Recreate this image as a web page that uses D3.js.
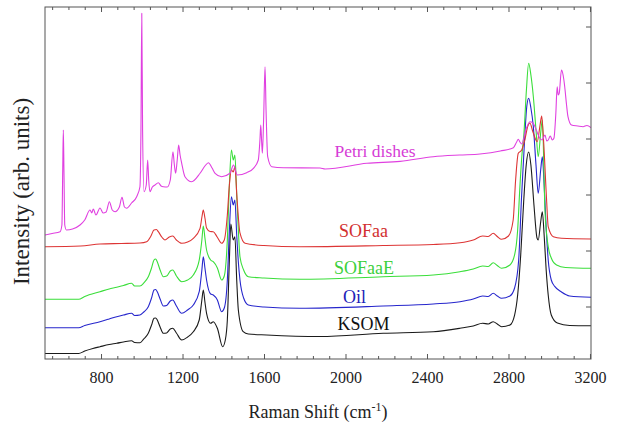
<!DOCTYPE html>
<html>
<head>
<meta charset="utf-8">
<script src="https://cdn.jsdelivr.net/npm/d3@7"></script>
<style>
  html, body { margin: 0; padding: 0; background: #fff; }
  svg { display: block; }
</style>
</head>
<body>
<svg id="chart" width="618" height="435"></svg>
<script>
// ---------------- data (Raman shift in cm-1, intensity in arb. units) ----------------
const xTicksMajor = [800, 1200, 1600, 2000, 2400, 2800, 3200];
const yTicks = [1, 2, 3, 4, 5, 6];

const ksomShift = [525,600,690,720,760,795,840,877,910,950,965,991,1010,1032,1048,1060,1068,1076,1090,1106,1122,1140,1152,1170,1196,1225,1253,1282,1295,1302,1310,1318,1338,1351,1371,1397,1410,1420,1430,1437,1449,1457,1466,1474,1498,1523,1613,1875,2185,2431,2562,2627,2673,2701,2725,2745,2766,2807,2830,2845,2860,2875,2887,2899,2910,2925,2940,2946,2958,2966,2975,2985,2995,3010,3040,3100,3205];
const ksomInt   = [0.16,0.16,0.16,0.205,0.25,0.282,0.321,0.343,0.366,0.389,0.357,0.354,0.42,0.521,0.67,0.789,0.795,0.759,0.634,0.521,0.527,0.598,0.611,0.527,0.402,0.455,0.55,0.759,1.116,1.295,1.08,0.879,0.7,0.729,0.611,0.282,0.402,0.759,1.83,2.473,2.188,2.246,1.473,0.938,0.55,0.509,0.491,0.464,0.521,0.55,0.611,0.652,0.7,0.688,0.729,0.688,0.639,0.67,0.848,1.205,1.92,2.902,3.527,3.759,3.527,2.813,2.223,2.188,2.509,2.693,2.277,1.652,1.205,0.848,0.705,0.661,0.657];

const oilShift = [525,690,720,795,840,877,910,950,965,991,1010,1032,1048,1060,1068,1076,1090,1106,1122,1140,1152,1170,1196,1225,1253,1282,1295,1302,1310,1318,1338,1351,1371,1392,1405,1420,1430,1440,1449,1457,1466,1474,1482,1500,1523,1600,1776,2185,2431,2562,2627,2673,2701,2725,2745,2766,2807,2830,2850,2864,2880,2890,2899,2910,2922,2935,2946,2958,2966,2975,2985,2995,3010,3028,3060,3100,3205];
const oilInt   = [0.621,0.621,0.661,0.729,0.777,0.818,0.848,0.879,0.839,0.848,0.902,0.996,1.152,1.295,1.304,1.264,1.134,1.009,1.018,1.098,1.116,1.009,0.879,0.938,1.027,1.264,1.652,1.889,1.688,1.473,1.223,1.205,1.116,0.907,0.973,1.473,2.366,2.961,2.813,2.902,2.277,1.795,1.473,1.152,1.027,0.991,0.968,1.009,1.045,1.086,1.134,1.188,1.179,1.236,1.188,1.146,1.188,1.33,1.83,2.946,4.045,4.58,4.718,4.545,4.211,3.527,3.021,3.438,3.675,3.17,2.402,1.83,1.473,1.354,1.259,1.188,1.164];

const sofaaeShift = [525,690,720,795,840,877,910,950,965,991,1010,1032,1048,1060,1068,1076,1090,1106,1122,1140,1152,1170,1196,1225,1253,1282,1295,1302,1310,1318,1338,1351,1371,1392,1405,1420,1430,1440,1449,1457,1466,1474,1482,1500,1523,1600,1776,2185,2431,2562,2627,2673,2701,2725,2745,2766,2807,2830,2845,2856,2866,2876,2888,2899,2910,2922,2935,2946,2958,2966,2979,2995,3010,3036,3080,3205];
const sofaaeInt   = [1.129,1.129,1.179,1.264,1.313,1.343,1.375,1.414,1.366,1.366,1.42,1.532,1.688,1.83,1.848,1.8,1.652,1.532,1.545,1.634,1.652,1.545,1.443,1.473,1.563,1.83,2.188,2.438,2.223,2.009,1.83,1.8,1.688,1.473,1.545,2.188,3.17,3.795,3.616,3.705,2.991,2.366,1.889,1.652,1.532,1.509,1.486,1.532,1.563,1.621,1.67,1.723,1.714,1.782,1.732,1.682,1.741,1.92,2.366,3.139,3.705,4.098,4.866,5.343,5.134,4.746,4.152,3.675,4.098,4.33,2.723,2.068,1.866,1.741,1.696,1.682];

const sofaaShift = [525,700,795,900,991,1024,1045,1060,1072,1081,1100,1114,1135,1152,1170,1196,1225,1253,1286,1296,1302,1310,1318,1335,1351,1370,1392,1405,1420,1430,1440,1449,1457,1468,1482,1507,1600,1776,2185,2431,2562,2627,2673,2701,2725,2745,2766,2800,2823,2835,2848,2865,2880,2895,2905,2920,2941,2955,2963,2972,2987,2995,3020,3060,3205];
const sofaaInt   = [2.068,2.08,2.116,2.125,2.134,2.157,2.259,2.366,2.375,2.336,2.232,2.188,2.241,2.259,2.188,2.129,2.152,2.218,2.396,2.616,2.723,2.58,2.402,2.339,2.336,2.241,2.129,2.188,2.634,3.17,3.438,3.402,3.496,2.902,2.313,2.129,2.089,2.068,2.089,2.107,2.139,2.188,2.259,2.25,2.307,2.25,2.2,2.259,2.545,3.259,3.736,3.795,3.973,4.223,4.277,4.116,3.943,4.241,4.402,3.973,2.902,2.425,2.246,2.218,2.205];

const petriShift = [525,560,599,608,612,615,618,622,630,660,697,720,746,755,762,775,795,810,825,841,855,869,890,903,915,926,950,975,991,996,1000,1004,1011,1022,1029,1034,1040,1052,1065,1081,1095,1106,1125,1140,1153,1160,1166,1174,1181,1188,1196,1212,1245,1286,1310,1327,1345,1360,1392,1433,1450,1469,1515,1548,1572,1580,1584,1588,1592,1598,1605,1610,1618,1638,1695,1875,1900,2105,2268,2431,2560,2660,2760,2824,2840,2848,2856,2865,2885,2905,2920,2930,2954,2965,2979,2988,2995,3005,3015,3023,3032,3039,3044,3049,3060,3068,3076,3085,3092,3109,3140,3166,3185,3205];
const petriInt   = [2.277,2.304,2.336,2.455,3.438,4.152,3.438,2.455,2.366,2.384,2.455,2.545,2.723,2.67,2.741,2.634,2.759,2.67,2.688,2.871,2.723,2.693,2.777,2.95,2.777,2.754,2.848,2.961,3.139,4.152,6.236,4.152,3.05,3.17,3.616,3.259,3.05,3.134,3.17,3.211,3.152,3.139,3.134,3.259,3.764,3.527,3.379,3.616,3.884,3.705,3.557,3.318,3.229,3.379,3.509,3.568,3.473,3.379,3.318,3.379,3.527,3.348,3.389,3.468,3.616,3.973,4.241,3.973,3.736,4.33,5.282,4.509,3.675,3.496,3.479,3.473,3.455,3.557,3.591,3.674,3.705,3.723,3.777,3.836,3.938,3.986,3.938,3.902,4.152,4.3,4.277,4.211,4.004,3.973,4.063,3.955,3.973,4.045,3.973,4.004,4.42,4.925,4.777,4.807,5.223,5.134,4.925,4.598,4.389,4.241,4.223,4.211,4.232,4.193];

const seriesNames = ["KSOM", "Oil", "SOFaaE", "SOFaa", "Petri dishes"];

// ---------------- styling / layout ----------------
const FONT = "'Liberation Serif', 'DejaVu Serif', serif";
const colors = {
  "KSOM": "#1a1a1a",
  "Oil": "#2626cc",
  "SOFaaE": "#3ade3a",
  "SOFaa": "#dd3535",
  "Petri dishes": "#e040e0"
};
const textColors = {
  "KSOM": "#111111",
  "Oil": "#2222b8",
  "SOFaaE": "#3cd03c",
  "SOFaa": "#d23030",
  "Petri dishes": "#d63cd6"
};
const labelPos = {
  "KSOM": [363.5, 330],
  "Oil": [354.5, 302.5],
  "SOFaaE": [364, 274],
  "SOFaa": [363.5, 237],
  "Petri dishes": [375, 157]
};

const seriesData = {
  "KSOM": ksomShift.map((s, i) => [s, ksomInt[i]]),
  "Oil": oilShift.map((s, i) => [s, oilInt[i]]),
  "SOFaaE": sofaaeShift.map((s, i) => [s, sofaaeInt[i]]),
  "SOFaa": sofaaShift.map((s, i) => [s, sofaaInt[i]]),
  "Petri dishes": petriShift.map((s, i) => [s, petriInt[i]])
};

const L = 45, R = 591, T = 7, B = 359;
const svg = d3.select("#chart");

const x = d3.scaleLinear().domain([525, 3205]).range([L, R]);
const y = d3.scaleLinear().domain([(362.5 - B) / 56, (362.5 - T) / 56]).range([B, T]);

const minorTicks = d3.range(560, 3205, 80);

svg.append("defs").append("clipPath").attr("id", "plotclip")
  .append("rect").attr("x", L).attr("y", T).attr("width", R - L).attr("height", B - T);

const line = d3.line()
  .x(d => x(d[0]))
  .y(d => y(d[1]))
  .curve(d3.curveMonotoneX);

const plot = svg.append("g").attr("clip-path", "url(#plotclip)");
seriesNames.forEach(name => {
  plot.append("path")
    .datum(seriesData[name])
    .attr("fill", "none")
    .attr("stroke", colors[name])
    .attr("stroke-width", 1.1)
    .attr("stroke-linejoin", "round")
    .attr("d", line);
});

const axisColor = "#555";
const gB = svg.append("g").attr("transform", `translate(0,${B})`);
gB.call(d3.axisTop(x).tickValues(minorTicks).tickFormat("")
  .tickSizeOuter(0).tickSizeInner(3));
gB.selectAll(".tick line").attr("y2", d => (d % 400 === 0 ? -5 : -3));
gB.select(".domain").remove();

const gT = svg.append("g").attr("transform", `translate(0,${T})`);
gT.call(d3.axisBottom(x).tickValues(minorTicks).tickFormat("")
  .tickSizeOuter(0).tickSizeInner(3));
gT.selectAll(".tick line").attr("y2", d => (d % 400 === 0 ? 5 : 3));
gT.select(".domain").remove();

const gR = svg.append("g").attr("transform", `translate(${R},0)`);
gR.call(d3.axisLeft(y).tickValues(yTicks).tickFormat("").tickSizeOuter(0).tickSizeInner(5));
gR.select(".domain").remove();

svg.selectAll(".tick line").attr("stroke", axisColor).attr("stroke-width", 1);

svg.append("rect").attr("x", L).attr("y", T).attr("width", R - L).attr("height", B - T)
  .attr("fill", "none").attr("stroke", axisColor).attr("stroke-width", 1);

const gLab = svg.append("g").attr("transform", `translate(0,${B})`);
gLab.call(d3.axisBottom(x).tickValues(xTicksMajor).tickFormat(d3.format("d"))
  .tickSize(0).tickPadding(0));
gLab.attr("font-family", FONT).attr("font-size", 16);
gLab.select(".domain").remove();
gLab.selectAll(".tick text")
  .attr("y", 24)
  .attr("dy", 0)
  .attr("font-size", 16)
  .attr("font-family", FONT)
  .attr("fill", "#222");

const xt = svg.append("text")
  .attr("x", 318).attr("y", 418)
  .attr("text-anchor", "middle")
  .attr("font-family", FONT)
  .attr("font-size", 18)
  .attr("fill", "#222");
xt.append("tspan").text("Raman Shift (cm");
xt.append("tspan").attr("font-size", 12).attr("dy", -7).text("-1");
xt.append("tspan").attr("dy", 7).text(")");

svg.append("text")
  .attr("transform", "translate(29,191.5) rotate(-90)")
  .attr("text-anchor", "middle")
  .attr("font-family", FONT)
  .attr("font-size", 23)
  .attr("fill", "#222")
  .text("Intensity (arb. units)");

seriesNames.forEach(name => {
  svg.append("text")
    .attr("x", labelPos[name][0]).attr("y", labelPos[name][1])
    .attr("text-anchor", "middle")
    .attr("font-family", FONT)
    .attr("font-size", name === "Petri dishes" ? 17.5 : 18)
    .attr("fill", textColors[name])
    .text(name);
});
</script>
</body>
</html>
